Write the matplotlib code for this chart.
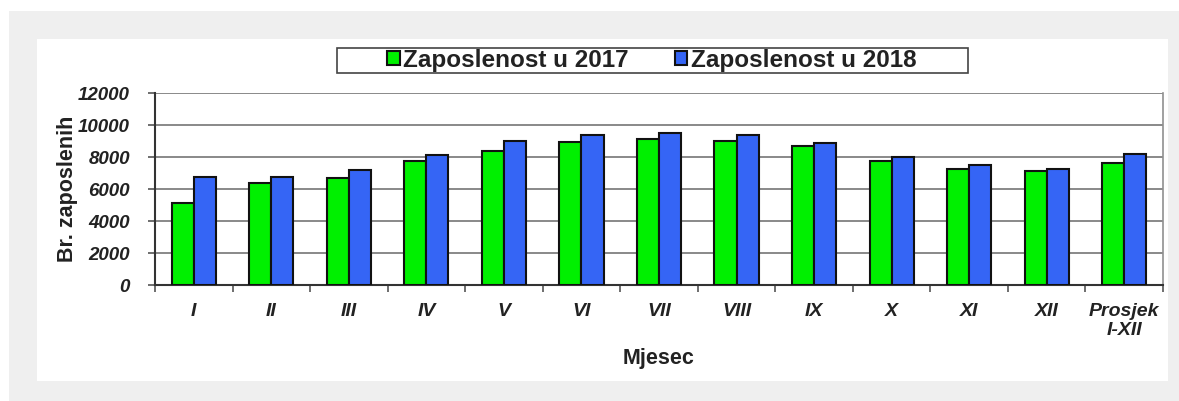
import matplotlib
matplotlib.use('Agg')
import matplotlib.pyplot as plt
import numpy as np
from matplotlib.patches import Rectangle

plt.rcParams['font.family'] = ['Liberation Sans', 'DejaVu Sans']

months = ['I', 'II', 'III', 'IV', 'V', 'VI', 'VII', 'VIII', 'IX', 'X', 'XI', 'XII', 'Prosjek\nI-XII']
zap2017 = [5150, 6400, 6700, 7750, 8400, 8950, 9150, 9050, 8700, 7800, 7300, 7150, 7650]
zap2018 = [6800, 6800, 7200, 8150, 9000, 9400, 9500, 9400, 8900, 8000, 7550, 7250, 8200]
labels = ['Zaposlenost u 2017', 'Zaposlenost u 2018']
colors = ['#00f000', '#3565f5']

W, H = 1179, 401
fig = plt.figure(figsize=(W/100, H/100), dpi=100)
fig.patch.set_facecolor('white')

# gray page background and white chart area
fig.patches.append(Rectangle((9/W, 0), 1 - 9/W, 390/H, transform=fig.transFigure,
                             facecolor='#efefef', edgecolor='none', zorder=-2))
fig.patches.append(Rectangle((37/W, 20/H), (1168-37)/W, (362-20)/H, transform=fig.transFigure,
                             facecolor='white', edgecolor='none', zorder=-1))
# legend box
fig.patches.append(Rectangle((337/W, 1 - 73/H), (968-337)/W, 25/H, transform=fig.transFigure,
                             facecolor='white', edgecolor='#444444', linewidth=1.2, zorder=0))

ax = fig.add_axes([155/W, (H-285.3)/H, (1163-155)/W, 192/H])
ax.set_facecolor('white')

x = np.arange(len(months))
width = 0.285
b1 = ax.bar(x - width/2, zap2017, width, color=colors[0], edgecolor='#111111',
            linewidth=1.5, label=labels[0], zorder=3)
b2 = ax.bar(x + width/2, zap2018, width, color=colors[1], edgecolor='#111111',
            linewidth=1.5, label=labels[1], zorder=3)

ax.set_xlim(-0.5, len(months) - 0.5)
ax.set_ylim(0, 12000)
ax.set_yticks(range(0, 12001, 2000))
ax.grid(axis='y', color='#808080', linewidth=1.3, zorder=0)

ax.set_xticks(x)
ax.set_xticklabels(months, fontsize=14, fontweight='bold', style='italic',
                   color='#222222', linespacing=1.15)
ax.set_xticks(np.arange(-0.5, len(months), 1), minor=True)
ax.tick_params(axis='x', which='major', length=0, pad=13)
ax.tick_params(axis='x', which='minor', length=5, color='#555555', width=1.2)
ax.tick_params(axis='y', length=5, color='#555555', width=1.2, pad=13)
for t in ax.get_yticklabels():
    t.set_fontsize(13.5)
    t.set_fontweight('bold')
    t.set_style('italic')
    t.set_color('#222222')

for s in ['left', 'bottom']:
    ax.spines[s].set_color('#333333')
    ax.spines[s].set_linewidth(1.5)
ax.spines['right'].set_color('#909090')
ax.spines['right'].set_linewidth(1.2)
ax.spines['top'].set_visible(False)

ax.set_ylabel('Br. zaposlenih', fontsize=15.5, fontweight='bold', color='#222222', labelpad=0)
ax.set_xlabel('Mjesec', fontsize=15.5, fontweight='bold', color='#222222', labelpad=6)

leg = fig.legend(handles=[b1, b2], labels=labels, loc='center',
                 bbox_to_anchor=(652/W, 1 - 60.5/H),
                 ncol=2, prop={'weight': 'bold', 'size': 17.5},
                 frameon=False,
                 handlelength=0.5, handleheight=0.5, handletextpad=0.15,
                 columnspacing=1.9, borderpad=0.1, borderaxespad=0)
for t in leg.get_texts():
    t.set_color('#222222')

fig.savefig('out.png', dpi=100)
